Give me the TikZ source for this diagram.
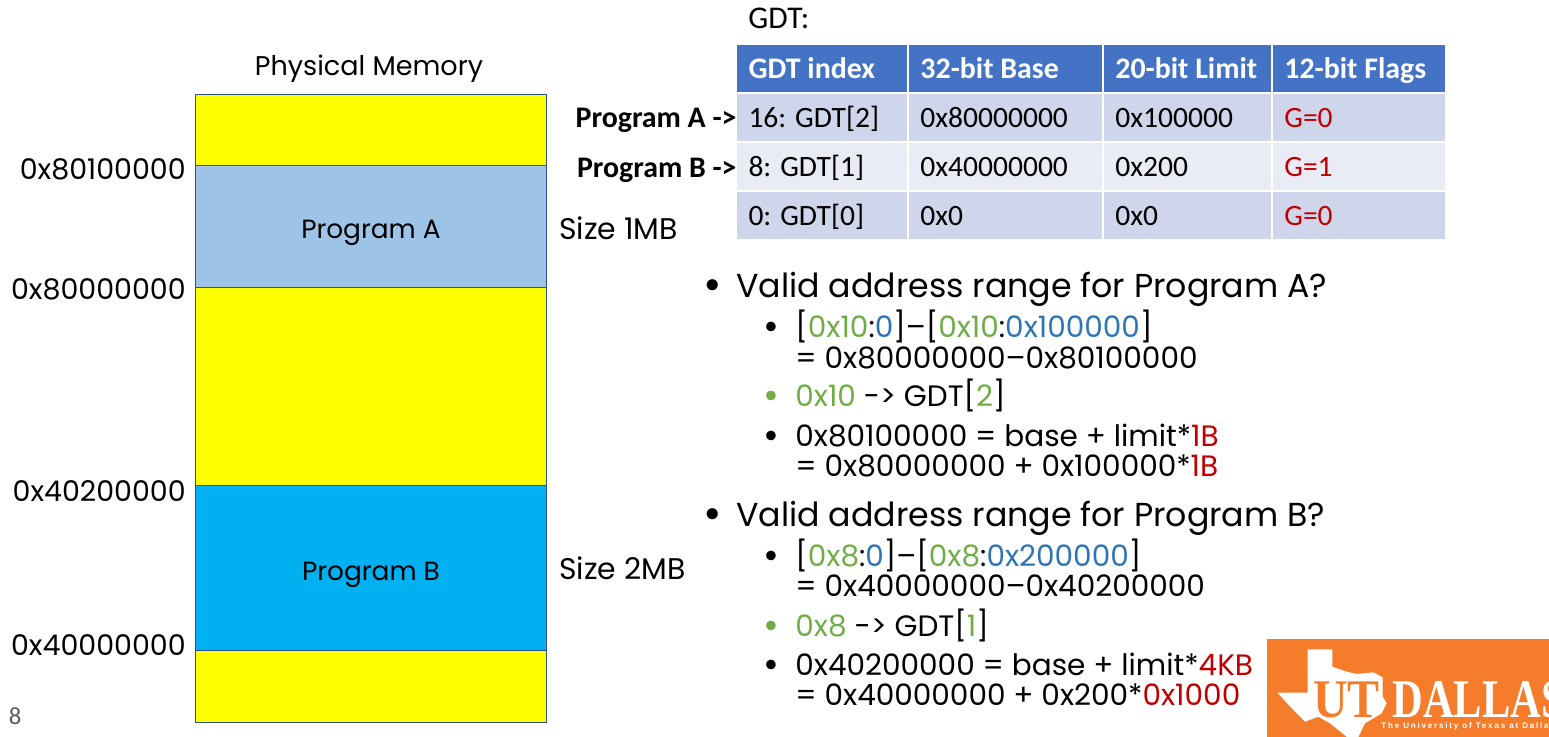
\documentclass[tikz,border=0pt]{standalone}
\usepackage{fontspec}
\setmainfont{Poppins}
\newfontfamily\calibrifont{Carlito}
\newfontfamily\logofont[FakeStretch=0.78]{Liberation Serif}
\newfontfamily\utfont[FakeStretch=0.88]{Liberation Serif}
\newfontfamily\tagfont[LetterSpace=22]{Liberation Sans}
\usepackage{xcolor}
\usetikzlibrary{positioning}
\definecolor{cyellow}{RGB}{255,255,0}
\definecolor{clightblue}{RGB}{157,195,230}
\definecolor{ccyan}{RGB}{0,176,240}
\definecolor{cborder}{RGB}{47,82,143}
\definecolor{chead}{RGB}{68,114,196}
\definecolor{crowdark}{RGB}{207,213,234}
\definecolor{crowlight}{RGB}{233,235,245}
\definecolor{cgreen}{RGB}{112,173,71}
\definecolor{cblue}{RGB}{46,117,182}
\definecolor{cred}{RGB}{192,0,0}
\definecolor{corange}{RGB}{245,124,43}
\definecolor{cpage}{RGB}{89,89,89}
\newcommand{\gr}[1]{\textcolor{cgreen}{#1}}
\newcommand{\bl}[1]{\textcolor{cblue}{#1}}
\newcommand{\rd}[1]{\textcolor{cred}{#1}}
\begin{document}
\begin{tikzpicture}[
    x=0.02cm, y=-0.02cm,
    block/.style={draw=cborder, line width=0.5pt, minimum width=7.04cm, outer sep=0pt, inner sep=0pt, text height=0.6cm, text depth=0.1cm, font=\fontsize{15}{18}\selectfont},
    addr/.style={font=\fontsize{16.2}{18}\selectfont, inner sep=0pt},
    sizelabel/.style={font=\fontsize{17}{20}\selectfont, anchor=west, inner sep=0pt},
    cell/.style={minimum width=#1, text width=#1-0.46cm, align=flush left, minimum height=0.94cm, inner xsep=0.23cm, inner ysep=0pt, outer sep=0pt, text height=0.58cm, text depth=0.16cm, font=\calibrifont\fontsize{16.8}{18}\selectfont},
    headcell/.style={cell=#1, fill=chead, text=white, font=\calibrifont\bfseries\fontsize{17}{18}\selectfont},
    darkcell/.style={cell=#1, fill=crowdark},
    lightcell/.style={cell=#1, fill=crowlight},
    ptr/.style={font=\calibrifont\bfseries\fontsize{17}{18}\selectfont, inner sep=0pt, anchor=base east},
    mainline/.style={font=\fontsize{18.9}{22}\selectfont, anchor=base west, inner sep=0pt},
    subline/.style={font=\fontsize{16.8}{19}\selectfont, anchor=base west, inner sep=0pt},
]
    \useasboundingbox (0,0) rectangle (1549,737);

    % memory column
    \node[font=\fontsize{15.4}{19}\selectfont, inner sep=0pt] (memtitle) at (369,69) {Physical Memory};
    \node[block, fill=cyellow, minimum height=1.42cm, anchor=north west] (top) at (195,94) {};
    \node[block, fill=clightblue, minimum height=2.44cm, below=0pt of top] (proga) {Program A};
    \node[block, fill=cyellow, minimum height=3.98cm, below=0pt of proga] (middle) {};
    \node[block, fill=ccyan, minimum height=3.3cm, below=0pt of middle] (progb) {Program B};
    \node[block, fill=cyellow, minimum height=1.44cm, below=0pt of progb] (bottom) {};

    \node[addr, left=0.18cm of proga.north west, yshift=-0.09cm] (addra) {0x80100000};
    \node[addr, left=0.18cm of proga.south west, yshift=-0.04cm] (addrb) {0x80000000};
    \node[addr, left=0.18cm of progb.north west, yshift=-0.1cm] (addrc) {0x40200000};
    \node[addr, left=0.18cm of progb.south west, yshift=0.12cm] (addrd) {0x40000000};
    \node[sizelabel, right=0.24cm of proga, yshift=-0.04cm] (sizea) {Size 1MB};
    \node[sizelabel, right=0.24cm of progb] (sizeb) {Size 2MB};
    \node[font=\calibrifont\fontsize{14}{16}\selectfont, text=cpage, inner sep=0pt] (page) at (15,716) {8};

    % gdt table
    \node[font=\calibrifont\fontsize{18}{20}\selectfont, inner sep=0pt, anchor=base west] (gdttitle) at (748,29) {GDT:};
    \node[headcell=3.4cm, anchor=north west] (h1) at (737,45) {GDT index};
    \node[headcell=3.86cm, right=0.04cm of h1] (h2) {32-bit Base};
    \node[headcell=3.34cm, right=0.04cm of h2] (h3) {20-bit Limit};
    \node[headcell=3.44cm, right=0.04cm of h3] (h4) {12-bit Flags};

    \node[darkcell=3.4cm, below=0.04cm of h1] (a1) {16: GDT[2]};
    \node[darkcell=3.86cm, right=0.04cm of a1] (a2) {0x80000000};
    \node[darkcell=3.34cm, right=0.04cm of a2] (a3) {0x100000};
    \node[darkcell=3.44cm, right=0.04cm of a3, text=cred] (a4) {G=0};

    \node[lightcell=3.4cm, below=0.04cm of a1] (b1) {8: GDT[1]};
    \node[lightcell=3.86cm, right=0.04cm of b1] (b2) {0x40000000};
    \node[lightcell=3.34cm, right=0.04cm of b2] (b3) {0x200};
    \node[lightcell=3.44cm, right=0.04cm of b3, text=cred] (b4) {G=1};

    \node[darkcell=3.4cm, below=0.04cm of b1] (c1) {0: GDT[0]};
    \node[darkcell=3.86cm, right=0.04cm of c1] (c2) {0x0};
    \node[darkcell=3.34cm, right=0.04cm of c2] (c3) {0x0};
    \node[darkcell=3.44cm, right=0.04cm of c3, text=cred] (c4) {G=0};

    \node[ptr] (ptra) at (737,127) {Program A ->};
    \node[ptr] (ptrb) at (737,177) {Program B ->};

    % questions, program a
    \node[mainline, font=\bfseries\fontsize{21}{22}\selectfont] (bulleta) at (703,297) {•};
    \node[mainline] (qa) at (736,297) {Valid address range for Program A?};
    \node[subline, font=\bfseries\fontsize{18}{19}\selectfont] (la0) at (763,337) {•};
    \node[subline] (la1) at (795,337) {[\gr{0x10}:\bl{0}]–[\gr{0x10}:\bl{0x100000}]};
    \node[subline] (la2) at (795,368) {= 0x80000000–0x80100000};
    \node[subline, font=\bfseries\fontsize{18}{19}\selectfont] (la3) at (763,406) {\gr{•}};
    \node[subline] (la4) at (795,406) {\gr{0x10} -> GDT[\gr{2}]};
    \node[subline, font=\bfseries\fontsize{18}{19}\selectfont] (la5) at (763,446) {•};
    \node[subline] (la6) at (795,446) {0x80100000 = base + limit*\rd{1B}};
    \node[subline] (la7) at (795,476) {= 0x80000000 + 0x100000*\rd{1B}};

    % questions, program b
    \node[mainline, font=\bfseries\fontsize{21}{22}\selectfont] (bulletb) at (703,526) {•};
    \node[mainline] (qb) at (736,526) {Valid address range for Program B?};
    \node[subline, font=\bfseries\fontsize{18}{19}\selectfont] (lb0) at (763,566) {•};
    \node[subline] (lb1) at (795,566) {[\gr{0x8}:\bl{0}]–[\gr{0x8}:\bl{0x200000}]};
    \node[subline] (lb2) at (795,596) {= 0x40000000–0x40200000};
    \node[subline, font=\bfseries\fontsize{18}{19}\selectfont] (lb3) at (763,636) {\gr{•}};
    \node[subline] (lb4) at (795,636) {\gr{0x8} -> GDT[\gr{1}]};
    \node[subline, font=\bfseries\fontsize{18}{19}\selectfont] (lb5) at (763,675) {•};
    \node[subline] (lb6) at (795,675) {0x40200000 = base + limit*\rd{4KB}};
    \node[subline] (lb7) at (795,705) {= 0x40000000 + 0x200*\rd{0x1000}};

    % logo
    \begin{scope}
        \clip (1267,639) rectangle (1549,737);
        \fill[corange] (1267,639) rectangle (1549,737);
        \fill[white] (1307.7,649.3) -- (1332.3,649.3) -- (1332.3,666.7) -- (1346.7,671.7) -- (1356.7,674) -- (1373.3,672.3) -- (1382.7,677.3) -- (1382.7,696.7) -- (1386.7,703.3) -- (1381.7,713.3) -- (1365,723.3) -- (1358.3,737) -- (1347,737) -- (1330,723.3) -- (1318.3,716.7) -- (1305,721.7) -- (1295,711.7) -- (1277.3,692.7) -- (1307.7,692.7) -- cycle;
        \node[font=\utfont\bfseries\fontsize{31}{31}\selectfont, text=corange, inner sep=0pt, anchor=base west] (logout) at (1313,717) {UT};
        \node[font=\logofont\bfseries\fontsize{31}{31}\selectfont, text=white, inner sep=0pt, anchor=base west] (logodallas) at (1392,717) {DALLAS};
        \node[font=\tagfont\bfseries\fontsize{4.6}{5}\selectfont, text=white, inner sep=0pt, anchor=base west] (logotag) at (1381,728) {The University of Texas at Dallas};
    \end{scope}
\end{tikzpicture}
\end{document}
